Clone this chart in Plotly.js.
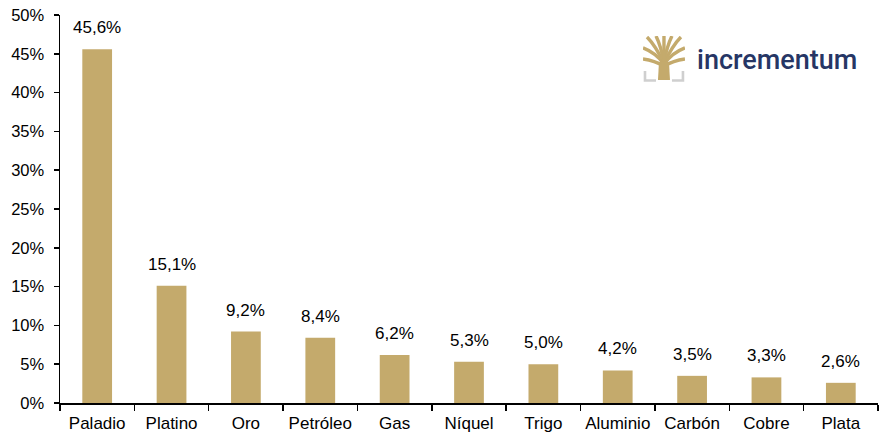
<!DOCTYPE html>
<html>
<head>
<meta charset="utf-8">
<script src="https://cdn.plot.ly/plotly-3.0.1.min.js"></script>
<style>
  html, body { margin: 0; padding: 0; background: #fff; }
  #chart { width: 881px; height: 434px; }
</style>
</head>
<body>
<div id="chart"></div>
<script>
// data
var commodities = ['Paladio', 'Platino', 'Oro', 'Petróleo', 'Gas', 'Níquel', 'Trigo', 'Aluminio', 'Carbón', 'Cobre', 'Plata'];
var shares = [45.6, 15.1, 9.2, 8.4, 6.2, 5.3, 5.0, 4.2, 3.5, 3.3, 2.6];
var yTicks = [0, 5, 10, 15, 20, 25, 30, 35, 40, 45, 50];

var gold = '#C4AA6C';
var navy = '#263665';

// small tree logo as inline svg
var treeSvg = "<svg xmlns='http://www.w3.org/2000/svg' viewBox='0 0 42 46'>" +
  "<g stroke='" + gold + "' fill='none' stroke-width='3.4'>" +
  "<path d='M21 30 C14 26 7 24 0 23'/>" +
  "<path d='M21 30 C28 26 35 24 42 23'/>" +
  "<path d='M21 28 C15 20 8 15 0 12'/>" +
  "<path d='M21 28 C27 20 34 15 42 12'/>" +
  "<path d='M21 27 C16 17 11 8 4 1'/>" +
  "<path d='M21 27 C26 17 31 8 38 1'/>" +
  "<path d='M21 26 C19 16 17 8 13 0'/>" +
  "<path d='M21 26 C23 16 25 8 29 0'/>" +
  "<path d='M21 26 V0'/>" +
  "</g>" +
  "<path d='M16 26 L26 26 L27 44 L15 44 Z' fill='" + gold + "'/>" +
  "<g stroke='#CFCFCF' fill='none' stroke-width='2.6'>" +
  "<path d='M2 35 V44.5 H13'/><path d='M40 35 V44.5 H29'/>" +
  "</g></svg>";

function fmt(v) {
  return v.toFixed(1).replace('.', ',') + '%';
}

var trace = {
  type: 'bar',
  x: commodities,
  y: shares,
  marker: { color: gold },
  hoverinfo: 'x+y'
};

var labels = commodities.map(function (c, i) {
  return {
    x: c, y: shares[i], xref: 'x', yref: 'y',
    text: fmt(shares[i]), showarrow: false,
    yanchor: 'bottom', yshift: 10,
    font: { family: 'Liberation Sans, Arial, sans-serif', size: 17, color: '#000' }
  };
});

labels.push({
  x: 0.8765, y: 0.884, xref: 'paper', yref: 'paper',
  text: 'incrementum', showarrow: false,
  xanchor: 'center', yanchor: 'middle',
  font: { family: 'Roboto, sans-serif', size: 27, color: navy, weight: 500 }
});

var layout = {
  width: 881,
  height: 434,
  margin: { l: 60, r: 3, t: 15, b: 31 },
  paper_bgcolor: '#fff',
  plot_bgcolor: '#fff',
  showlegend: false,
  bargap: 0.6,
  font: { family: 'Liberation Sans, Arial, sans-serif', size: 17, color: '#000' },
  xaxis: {
    showline: true, linecolor: '#000', linewidth: 1.5,
    ticks: 'outside', ticklen: 6, tickwidth: 1.5, tickcolor: '#000',
    tickson: 'boundaries', showgrid: false, zeroline: false,
    tickangle: 0, automargin: false,
    ticklabelstandoff: 4,
    tickfont: { size: 17 }
  },
  yaxis: {
    range: [0, 50], tickvals: yTicks,
    ticktext: yTicks.map(function (v) { return v + '%'; }),
    showline: true, linecolor: '#000', linewidth: 1.5,
    ticks: 'outside', ticklen: 5, tickwidth: 1.5, tickcolor: '#000',
    showgrid: false, zeroline: false,
    ticklabelstandoff: 6,
    tickfont: { size: 16.5 }
  },
  annotations: labels,
  images: [{
    source: 'data:image/svg+xml;charset=utf-8,' + encodeURIComponent(treeSvg),
    xref: 'paper', yref: 'paper',
    x: 0.7127, y: 0.946, sizex: 0.0513, sizey: 0.1186,
    xanchor: 'left', yanchor: 'top', sizing: 'stretch', layer: 'above'
  }]
};

Plotly.newPlot('chart', [trace], layout, { staticPlot: true });
</script>
</body>
</html>
